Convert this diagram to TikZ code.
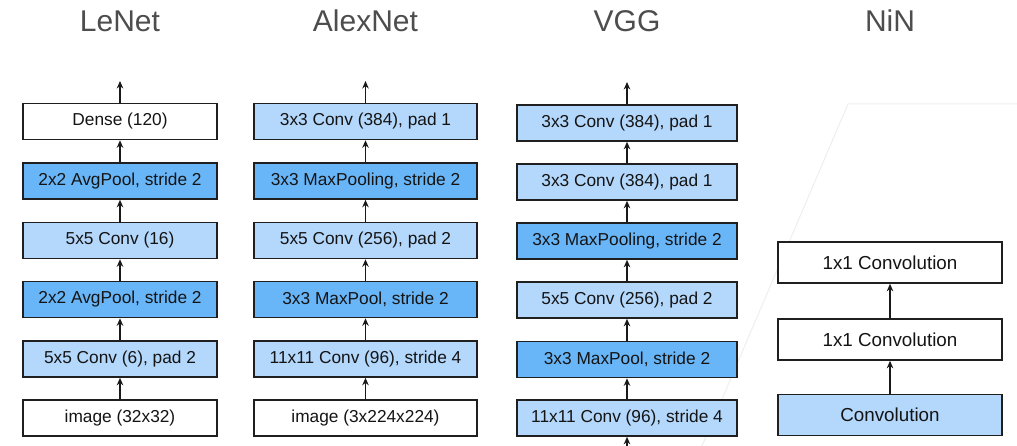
\documentclass[tikz,border=0pt]{standalone}
\usepackage{fontspec}
\setmainfont{Liberation Sans}
\usetikzlibrary{arrows.meta}
\definecolor{lightb}{RGB}{180,215,252}
\definecolor{darkb}{RGB}{104,182,248}
\definecolor{titlegray}{RGB}{77,77,77}
\definecolor{faint}{RGB}{238,238,238}
\begin{document}
\begin{tikzpicture}[x=1pt,y=-1pt,
  layer/.style={draw=black!88, line width=1.6pt, minimum height=36pt, inner sep=0pt,
    font=\fontsize{17.3}{19}\selectfont, text=black!92},
  ninlayer/.style={layer, minimum height=41pt, minimum width=224pt, font=\fontsize{18.8}{20}\selectfont},
  lenetbox/.style={layer, minimum width=194pt},
  alexbox/.style={layer, minimum width=223pt},
  vggbox/.style={layer, minimum width=220pt},
  plain/.style={fill=white},
  light/.style={fill=lightb},
  dark/.style={fill=darkb},
  flow/.style={-{Stealth[length=7.5pt,width=6.5pt]}, line width=1.6pt, draw=black!90},
  title/.style={font=\fontsize{30}{34}\selectfont, text=titlegray, anchor=base}
]
\useasboundingbox (0,0) rectangle (1017,446);
% faint perspective line
\draw[faint, line width=1pt] (1017,104) -- (848,104) -- (702,446);

% titles
\node[title] (tle) at (120,32) {LeNet};
\node[title] (tal) at (365.5,32) {AlexNet};
\node[title] (tvg) at (627,32) {VGG};
\node[title] (tni) at (890,32) {NiN};

% LeNet
\node[lenetbox, plain] (l1) at (120,418) {image (32x32)};
\node[lenetbox, light] (l2) at (120,359) {5x5 Conv (6), pad 2};
\node[lenetbox, dark]  (l3) at (120,299.5) {2x2 AvgPool, stride 2};
\node[lenetbox, light] (l4) at (120,240.5) {5x5 Conv (16)};
\node[lenetbox, dark]  (l5) at (120,181) {2x2 AvgPool, stride 2};
\node[lenetbox, plain] (l6) at (120,121.5) {Dense (120)};
\coordinate (lout) at (120,81);
\draw[flow] (l1) -- (l2);
\draw[flow] (l2) -- (l3);
\draw[flow] (l3) -- (l4);
\draw[flow] (l4) -- (l5);
\draw[flow] (l5) -- (l6);
\draw[flow] (l6) -- (lout);

% AlexNet
\node[alexbox, plain] (a1) at (365.5,418) {image (3x224x224)};
\node[alexbox, light] (a2) at (365.5,359) {11x11 Conv (96), stride 4};
\node[alexbox, dark]  (a3) at (365.5,299.5) {3x3 MaxPool, stride 2};
\node[alexbox, light] (a4) at (365.5,240.5) {5x5 Conv (256), pad 2};
\node[alexbox, dark]  (a5) at (365.5,181) {3x3 MaxPooling, stride 2};
\node[alexbox, light] (a6) at (365.5,121.5) {3x3 Conv (384), pad 1};
\coordinate (aout) at (365.5,81);
\draw[flow] (a1) -- (a2);
\draw[flow] (a2) -- (a3);
\draw[flow] (a3) -- (a4);
\draw[flow] (a4) -- (a5);
\draw[flow] (a5) -- (a6);
\draw[flow] (a6) -- (aout);

% VGG
\coordinate (vin) at (627,452);
\node[vggbox, light] (v1) at (627,418) {11x11 Conv (96), stride 4};
\node[vggbox, dark]  (v2) at (627,359.5) {3x3 MaxPool, stride 2};
\node[vggbox, light] (v3) at (627,300) {5x5 Conv (256), pad 2};
\node[vggbox, dark]  (v4) at (627,241) {3x3 MaxPooling, stride 2};
\node[vggbox, light] (v5) at (627,182) {3x3 Conv (384), pad 1};
\node[vggbox, light] (v6) at (627,123) {3x3 Conv (384), pad 1};
\coordinate (vout) at (627,82);
\draw[flow] (vin) -- (v1);
\draw[flow] (v1) -- (v2);
\draw[flow] (v2) -- (v3);
\draw[flow] (v3) -- (v4);
\draw[flow] (v4) -- (v5);
\draw[flow] (v5) -- (v6);
\draw[flow] (v6) -- (vout);

% NiN
\node[ninlayer, light] (n1) at (890,415) {Convolution};
\node[ninlayer, plain] (n2) at (890,339.5) {1x1 Convolution};
\node[ninlayer, plain] (n3) at (890,262.5) {1x1 Convolution};
\draw[flow] (n1) -- (n2);
\draw[flow] (n2) -- (n3);
\end{tikzpicture}
\end{document}
